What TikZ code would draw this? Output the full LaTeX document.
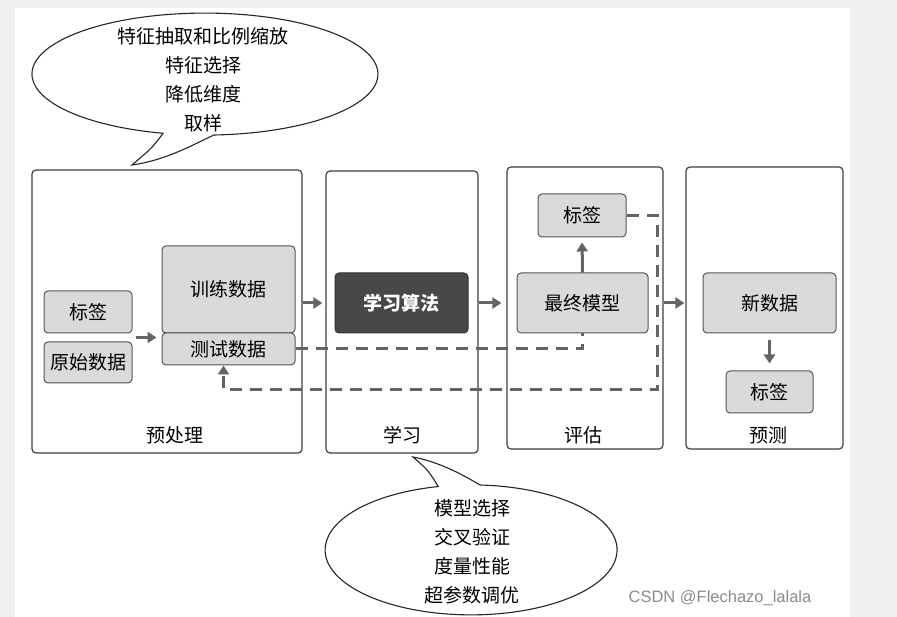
\documentclass[tikz,border=0pt]{standalone}
\usepackage{fontspec}
\newfontfamily\cjk{Noto Sans CJK SC}
\newfontfamily\markfont{Liberation Sans}
\usetikzlibrary{positioning, calc, arrows.meta}
\definecolor{boxgray}{RGB}{218,218,218}
\definecolor{linegray}{RGB}{100,100,100}
\definecolor{edgegray}{RGB}{85,85,85}
\definecolor{darkfill}{RGB}{72,72,72}
\definecolor{pagegray}{RGB}{240,240,240}

\begin{document}
\begin{tikzpicture}[x=1pt,y=-1pt,
    every node/.style={font=\cjk\fontsize{19}{23}\selectfont, inner sep=0pt},
    stage/.style={draw=black!75, line width=1.2pt, rounded corners=4pt, fill=white},
    databox/.style={draw=edgegray, line width=1pt, rounded corners=4pt, fill=boxgray},
    algbox/.style={draw=black!80, line width=1pt, rounded corners=4pt, fill=darkfill, text=white,
        font=\cjk\bfseries\fontsize{19}{23}\selectfont},
    flow/.style={linegray, line width=3pt, -{Triangle[length=9pt,width=11pt]}},
    loop/.style={linegray, line width=3pt, dash pattern=on 12pt off 8pt},
    bubble/.style={draw=black!85, line width=1.1pt, fill=white},
    tips/.style={align=center, font=\cjk\fontsize{19}{29}\selectfont}]

        % ==========================================
        % Page
        % ==========================================
        \useasboundingbox (0,0) rectangle (897,617);
        \fill[pagegray] (0,0) rectangle (897,617);
        \fill[white] (15,8) rectangle (850,617);

        % ==========================================
        % Stages
        % ==========================================
        \node[stage, minimum width=270pt, minimum height=283pt] (prep) at (167,311.5) {};
        \node[stage, minimum width=152pt, minimum height=282pt] (learn) at (402,312) {};
        \node[stage, minimum width=156pt, minimum height=282pt] (eval) at (585,308) {};
        \node[stage, minimum width=157pt, minimum height=282pt] (pred) at (764.5,308) {};

        \node (prepname) at (175,435) {预处理};
        \node (learnname) at (402,435) {学习};
        \node (evalname) at (583,435) {评估};
        \node (predname) at (768,435) {预测};

        % ==========================================
        % Boxes inside the stages
        % ==========================================
        % Preprocessing
        \node[databox, minimum width=88pt, minimum height=42pt] (label) at (88,312) {标签};
        \node[databox, minimum width=88pt, minimum height=41pt] (raw) at (88,362.5) {原始数据};
        \node[databox, minimum width=133pt, minimum height=87pt] (train) at (228.5,289.5) {训练数据};
        \node[databox, minimum width=133pt, minimum height=32pt] (test) at (228.5,349) {测试数据};

        % Learning
        \node[algbox, minimum width=133pt, minimum height=60pt] (alg) at (401.5,303) {学习算法};

        % Evaluation
        \node[databox, minimum width=88pt, minimum height=43pt] (evallabel) at (582,215.5) {标签};
        \node[databox, minimum width=131pt, minimum height=60pt] (final) at (582.5,303) {最终模型};

        % Prediction
        \node[databox, minimum width=133pt, minimum height=60pt] (newdata) at (769.5,303) {新数据};
        \node[databox, minimum width=87pt, minimum height=42pt] (predlabel) at (769.5,392) {标签};

        % ==========================================
        % Arrows
        % ==========================================
        \coordinate (join) at ($(label.south east)!0.5!(raw.north east)$);
        \draw[flow] ([xshift=3pt]join) -- ([xshift=-5pt]join -| train.west);

        \draw[flow, shorten >=3pt] (prep.east |- alg.west) -- (learn.west |- alg.west);
        \draw[flow, shorten >=5pt] (learn.east |- alg.east) -- (eval.west |- alg.east);
        \draw[flow, shorten >=1pt] (eval.east |- final.east) -- (pred.west |- final.east);

        \draw[flow, shorten >=5pt] (final.north) -- (evallabel.south);
        \draw[flow, shorten <=7pt, shorten >=7pt] (newdata.south) -- (predlabel.north);

        % ==========================================
        % Dashed feedback
        % ==========================================
        \draw[loop] (test.east) -| (final.south);

        \coordinate (back) at (657,390);
        \draw[loop, -{Triangle[length=9pt,width=11pt]}] (evallabel.east) -| (back) -| ([xshift=-5pt]test.south);

        % ==========================================
        % Callouts
        % ==========================================
        \draw[bubble] (214,135) arc[start angle=87, end angle=-256, x radius=173, y radius=61]
            .. controls (152,148) .. (132,165) .. controls (168,160) and (198,142) .. cycle;
        \node[tips] (preptips) at (203,80) {特征抽取和比例缩放\\特征选择\\降低维度\\取样};

        \draw[bubble] (480,485) arc[start angle=-86.5, end angle=257, x radius=146, y radius=65]
            .. controls (428,470) .. (413,457) .. controls (440,462) and (465,476) .. cycle;
        \node[tips] (learntips) at (472,552) {模型选择\\交叉验证\\度量性能\\超参数调优};

        % watermark
        \node[font=\markfont\fontsize{16.5}{19}\selectfont, text=black!45] (mark) at (720,598) {CSDN @Flechazo\_lalala};

    \end{tikzpicture}
\end{document}
